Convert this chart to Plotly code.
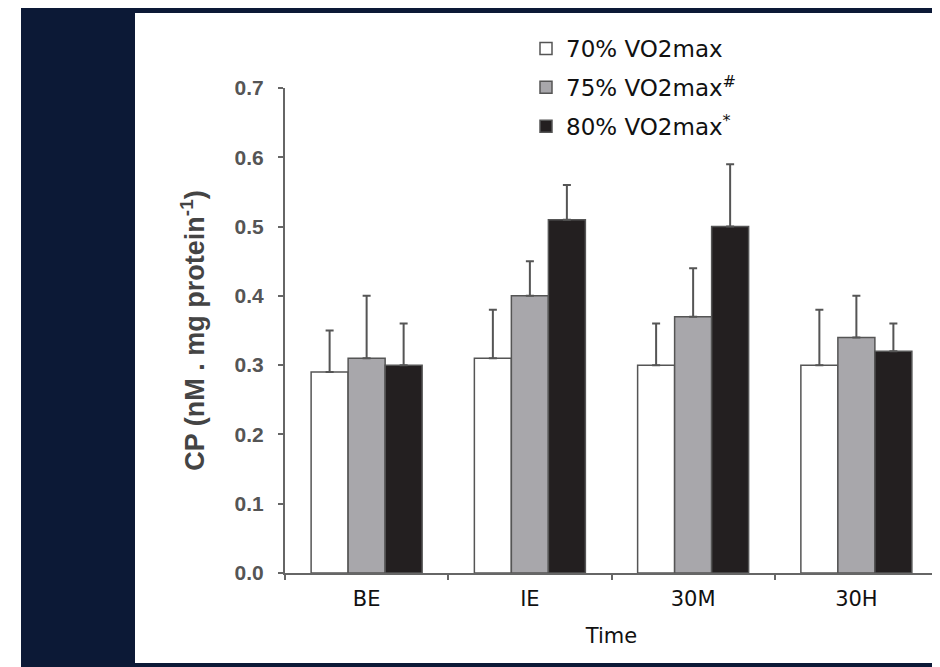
import plotly.graph_objects as go

categories = ["BE", "IE", "30M", "30H"]
series_names = ["70% VO2max", "75% VO2max<sup>#</sup>", "80% VO2max<sup>*</sup>"]
means_70 = [0.29, 0.31, 0.30, 0.30]
means_75 = [0.31, 0.40, 0.37, 0.34]
means_80 = [0.30, 0.51, 0.50, 0.32]
sd_70 = [0.06, 0.07, 0.06, 0.08]
sd_75 = [0.09, 0.05, 0.07, 0.06]
sd_80 = [0.06, 0.05, 0.09, 0.04]
y_ticks = [0.0, 0.1, 0.2, 0.3, 0.4, 0.5, 0.6, 0.7]

# page body has an 8px margin, so the figure is placed at (8, 8)
OFF = 8
W, H = 940 - OFF, 667 - OFF
L, R, T, B = 285 - OFF, 2, 88 - OFF, 667 - 573
pw, ph = W - L - R, H - T - B

def px_x(p):
    return (p - OFF - L) / pw

def px_y(p):
    return (H - B - (p - OFF)) / ph

fills = ["#ffffff", "#a8a7ab", "#231f20"]
means = [means_70, means_75, means_80]
sds = [sd_70, sd_75, sd_80]

fig = go.Figure()
for i in range(3):
    fig.add_trace(go.Bar(
        x=categories, y=means[i], name=series_names[i],
        legendgroup=str(i),
        marker=dict(color=fills[i], line=dict(color="#555555", width=1.5)),
        error_y=dict(type="data", symmetric=False, array=sds[i],
                     arrayminus=[0] * 4, color="#555555", thickness=2, width=4),
    ))

navy = "#0c1936"
shapes = [
    dict(type="rect", xref="paper", yref="paper", layer="below",
         x0=px_x(21), x1=px_x(135), y0=px_y(8), y1=px_y(667),
         fillcolor=navy, line=dict(width=0)),
    dict(type="rect", xref="paper", yref="paper", layer="below",
         x0=px_x(135), x1=px_x(940), y0=px_y(8), y1=px_y(13),
         fillcolor=navy, line=dict(width=0)),
    dict(type="rect", xref="paper", yref="paper", layer="below",
         x0=px_x(135), x1=px_x(940), y0=px_y(663), y1=px_y(667),
         fillcolor=navy, line=dict(width=0)),
]

fig.update_layout(
    width=W, height=H,
    margin=dict(l=L, r=R, t=T, b=B),
    paper_bgcolor="#ffffff", plot_bgcolor="#ffffff",
    barmode="group", bargap=0.32, bargroupgap=0,
    shapes=shapes,
    showlegend=True,
    legend=dict(x=px_x(526), y=px_y(27), xanchor="left", yanchor="top",
                font=dict(family="DejaVu Sans", size=23, color="#111111"),
                tracegroupgap=6, traceorder="grouped",
                bgcolor="rgba(0,0,0,0)"),
    xaxis=dict(
        showline=True, linecolor="#666666", linewidth=2,
        ticks="outside", tickson="boundaries", ticklen=5, tickcolor="#666666", tickwidth=2,
        tickfont=dict(family="DejaVu Sans", size=21, color="#111111"),
        ticklabelstandoff=6,
        title=dict(text="Time", font=dict(family="DejaVu Sans", size=21, color="#111111"), standoff=18),
        showgrid=False, zeroline=False,
    ),
    yaxis=dict(
        range=[0, 0.7], tickvals=y_ticks, tickformat=".1f",
        showline=True, linecolor="#666666", linewidth=2,
        ticks="outside", ticklen=5, tickcolor="#666666", tickwidth=2,
        ticklabelstandoff=10,
        tickfont=dict(family="Liberation Sans", size=21, color="#555555", weight="bold"),
        title=dict(text="CP (nM . mg protein<sup>-1</sup>)",
                   font=dict(family="Liberation Sans", size=27, color="#444444", weight="bold"),
                   standoff=22),
        showgrid=False, zeroline=False,
    ),
)

fig.write_html("out.html")
